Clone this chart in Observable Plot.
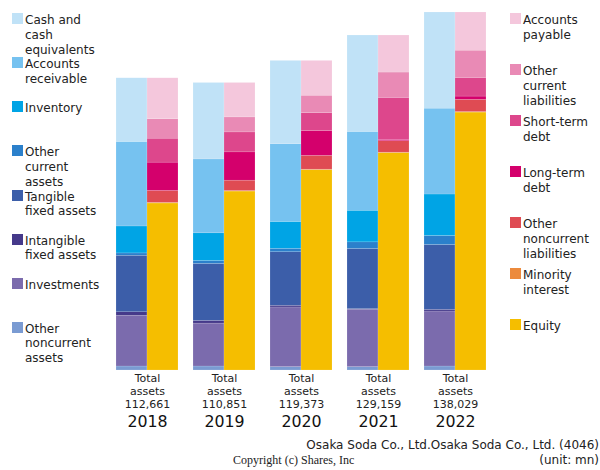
<!DOCTYPE html>
<html>
<head>
<meta charset="utf-8">
<script src="https://cdn.jsdelivr.net/npm/d3@7"></script>
<script src="https://cdn.jsdelivr.net/npm/@observablehq/plot@0.6"></script>
<style>
  html, body { margin: 0; padding: 0; background: #fff; }
  #wrap { position: relative; width: 600px; height: 470px; font-family: "DejaVu Sans", sans-serif; color: #222; overflow: hidden; }
  #chart { position: absolute; left: 0; top: 0; }
  .leg { position: absolute; font-size: 12px; line-height: 14.8px; white-space: pre-line; }
  .leg .sw { position: absolute; left: 0; top: 0; width: 11px; height: 11px; }
  .leg .tx { position: absolute; left: 13px; top: 0px; white-space: pre; }
  .foot { position: absolute; font-size: 12px; white-space: nowrap; }
</style>
</head>
<body>
<div id="wrap">
  <div id="chart"></div>
</div>
<script>
const years = ["2018", "2019", "2020", "2021", "2022"];
const totalAssets = [112661, 110851, 119373, 129159, 138029];

// Assets (bottom to top)
const assetNames = ["Other noncurrent assets", "Investments", "Intangible fixed assets", "Tangible fixed assets", "Other current assets", "Inventory", "Accounts receivable", "Cash and cash equivalents"];
const otherNoncurrentAssets = [1540, 1540, 1300, 1300, 1540];
const investments = [19600, 16550, 23000, 22100, 21200];
const intangibleFixedAssets = [1300, 1040, 650, 250, 650];
const tangibleFixedAssets = [21800, 21950, 20650, 23200, 25000];
const otherCurrentAssets = [900, 1150, 1300, 2550, 3470];
const inventory = [10400, 10650, 10400, 12200, 16000];
const accountsReceivable = [32600, 28500, 30000, 30400, 33100];
const cashAndEquivalents = [24520, 29470, 32070, 37160, 37070];
const assetColors = ["#7a9bd2", "#7b6bad", "#45398a", "#3c5ea9", "#2b80cb", "#00a4e5", "#76c2f0", "#c0e2f7"];

// Liabilities and equity (bottom to top)
const liabNames = ["Equity", "Minority interest", "Other noncurrent liabilities", "Long-term debt", "Short-term debt", "Other current liabilities", "Accounts payable"];
const equity = [64400, 69000, 77250, 83800, 99450];
const minorityInterest = [250, 200, 200, 200, 200];
const otherNoncurrentLiabilities = [4600, 4000, 5300, 4430, 4700];
const longTermDebt = [10900, 10900, 9600, 500, 1270];
const shortTermDebt = [9240, 7700, 6900, 16200, 7200];
const otherCurrentLiabilities = [7470, 5780, 6700, 9750, 10500];
const accountsPayable = [15800, 13270, 13420, 14280, 14710];
const liabColors = ["#f5be00", "#ec8a3c", "#df4b53", "#d4006c", "#dd478c", "#e98ab5", "#f4c7dc"];

const assetSeries = [otherNoncurrentAssets, investments, intangibleFixedAssets, tangibleFixedAssets, otherCurrentAssets, inventory, accountsReceivable, cashAndEquivalents];
const liabSeries = [equity, minorityInterest, otherNoncurrentLiabilities, longTermDebt, shortTermDebt, otherCurrentLiabilities, accountsPayable];

// Legend labels (with line breaks)
const assetLegend = ["Cash and\ncash\nequivalents", "Accounts\nreceivable", "Inventory", "Other\ncurrent\nassets", "Tangible\nfixed assets", "Intangible\nfixed assets", "Investments", "Other\nnoncurrent\nassets"];
const liabLegend = ["Accounts\npayable", "Other\ncurrent\nliabilities", "Short-term\ndebt", "Long-term\ndebt", "Other\nnoncurrent\nliabilities", "Minority\ninterest", "Equity"];

const rows = [];
years.forEach((y, i) => {
  assetNames.forEach((n, k) => rows.push({year: y, side: "A", item: n, value: assetSeries[k][i]}));
  liabNames.forEach((n, k) => rows.push({year: y, side: "L", item: n, value: liabSeries[k][i]}));
});
const labels = years.map((y, i) => ({year: y, total: totalAssets[i]}));

const fmt = d3.format(",");
const chart = Plot.plot({
  width: 600,
  height: 440,
  marginLeft: 116,
  marginRight: 114,
  marginTop: 12,
  marginBottom: 70,
  style: {fontFamily: "DejaVu Sans, sans-serif", color: "#222", background: "transparent"},
  fx: {domain: years, paddingInner: 0.195, paddingOuter: 0, axis: null, label: null},
  x: {domain: ["A", "L"], padding: 0, axis: null},
  y: {domain: [0, d3.max(totalAssets)], axis: null},
  color: {domain: [...assetNames, ...liabNames], range: [...assetColors, ...liabColors]},
  marks: [
    Plot.barY(rows, {fx: "year", x: "side", y: "value", fill: "item", stroke: "white", strokeWidth: 0.4, strokeOpacity: 0.35, inset: 0}),
    Plot.text(labels, {fx: "year", frameAnchor: "bottom", text: d => `Total\nassets\n${fmt(d.total)}`, lineAnchor: "top", dy: 2.5, fontSize: 11, lineHeight: 1.16, fill: "#222"}),
    Plot.text(labels, {fx: "year", frameAnchor: "bottom", text: "year", lineAnchor: "middle", dy: 51, fontSize: 15.8, fill: "#111"})
  ]
});
document.getElementById("chart").appendChild(chart);

const wrap = document.getElementById("wrap");
function addLegend(names, colors, left, top0, step) {
  names.forEach((label, i) => {
    const d = document.createElement("div");
    d.className = "leg";
    d.style.left = left + "px";
    d.style.top = (top0 + step * i) + "px";
    const sw = document.createElement("div");
    sw.className = "sw";
    sw.style.background = colors[i];
    const tx = document.createElement("div");
    tx.className = "tx";
    tx.textContent = label;
    d.appendChild(sw);
    d.appendChild(tx);
    wrap.appendChild(d);
  });
}
addLegend(assetLegend, assetColors.slice().reverse(), 12, 13.3, 44.05);
addLegend(liabLegend, liabColors.slice().reverse(), 510, 13.3, 51);

function addFoot(text, style) {
  const d = document.createElement("div");
  d.className = "foot";
  d.textContent = text;
  Object.assign(d.style, style);
  wrap.appendChild(d);
}
addFoot("Osaka Soda Co., Ltd.Osaka Soda Co., Ltd. (4046)", {right: "1px", top: "438px"});
addFoot("(unit: mn)", {right: "1px", top: "453px"});
addFoot("Copyright (c) Shares, Inc", {left: "233px", top: "453px", fontFamily: "Liberation Serif, serif", fontSize: "12px"});
</script>
</body>
</html>
